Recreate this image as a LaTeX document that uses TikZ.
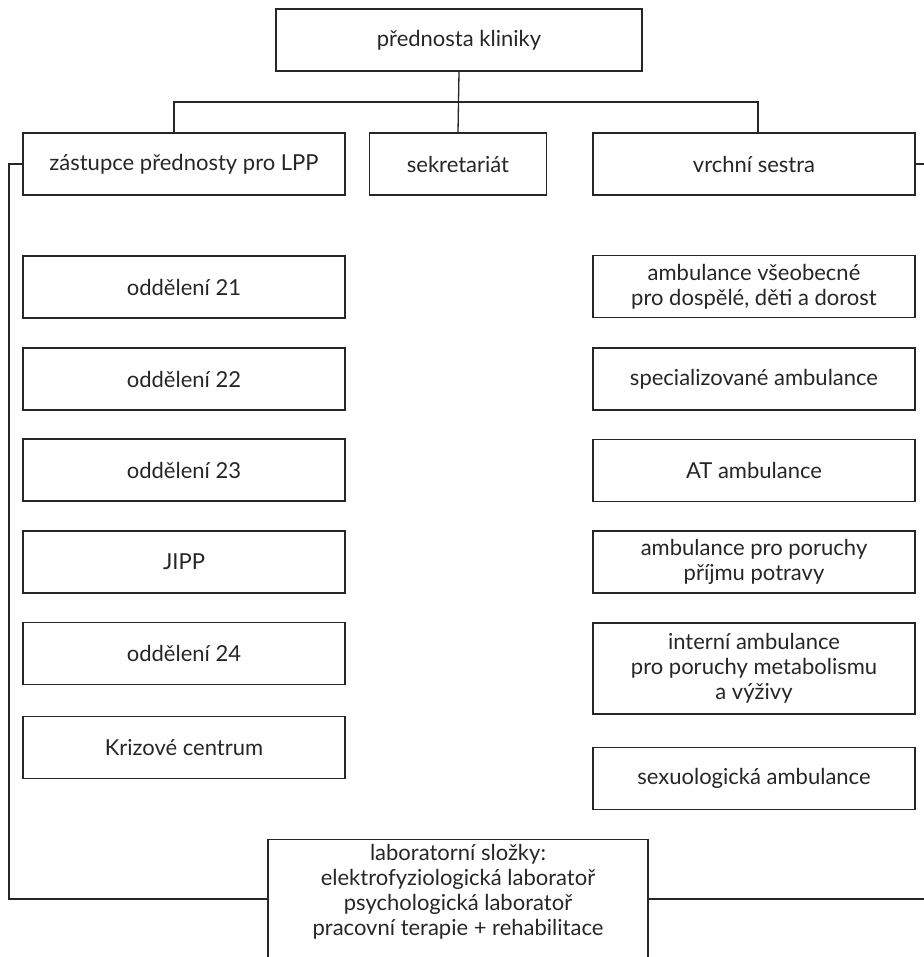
\documentclass[tikz,border=0pt]{standalone}
\usepackage{fontspec}
\setmainfont{Lato}
\tikzstyle{unit}=[draw, minimum height=62pt, align=center, inner sep=2pt, font=\fontsize{22}{25}\selectfont]
\tikzstyle{wide}=[unit, minimum width=322pt]

\begin{document}
\begin{tikzpicture}[x=1pt, y=-1pt, line width=1.3pt, black!85]
\useasboundingbox (0,0) rectangle (923,957);
% Head and second row
    \node[unit, minimum width=366pt] (head) at (459,40) {přednosta kliniky};
    \node[wide] (deputy) at (184,164) {zástupce přednosty pro LPP};
    \node[unit, minimum width=177pt] (office) at (458,164) {sekretariát};
    \node[wide] (nurse) at (754,164) {vrchní sestra};
% Wards
    \node[wide] (w21) at (184,287) {oddělení 21};
    \node[wide] (w22) at (184,379) {oddělení 22};
    \node[wide] (w23) at (184,470) {oddělení 23};
    \node[wide] (jipp) at (184,562) {JIPP};
    \node[wide] (w24) at (184,653.5) {oddělení 24};
    \node[wide] (crisis) at (184,747.5) {Krizové centrum};
% Outpatient units
    \node[wide] (general) at (754,286.5) {ambulance všeobecné\\pro dospělé, děti a dorost};
    \node[wide] (special) at (754,379) {specializované ambulance};
    \node[wide] (at) at (754,470.5) {AT ambulance};
    \node[wide] (eating) at (754,562) {ambulance pro poruchy\\příjmu potravy};
    \node[wide, minimum height=91pt] (intern) at (754,668.5) {interní ambulance\\pro poruchy metabolismu\\a výživy};
    \node[wide] (sexo) at (754,778.5) {sexuologická ambulance};
% Laboratories
    \node[unit, minimum width=380pt, anchor=north, inner ysep=5pt, text depth=110pt] (lab) at (458,839)
        {laboratorní složky:\\elektrofyziologická laboratoř\\psychologická laboratoř\\pracovní terapie + rehabilitace};
% Lines
    \coordinate (bus) at (458,102);
    \coordinate (lb) at (9,899);
    \coordinate (rb) at (940,899);
    \draw (head.south) -- (office.north);
    \draw ([xshift=-10pt]deputy.north) |- (bus) -| ([xshift=4pt]nurse.north);
    \draw (deputy.west) -| (lb) -- (lb -| lab.west);
    \draw (nurse.east) -| (rb) -- (rb -| lab.east);
\end{tikzpicture}
\end{document}
